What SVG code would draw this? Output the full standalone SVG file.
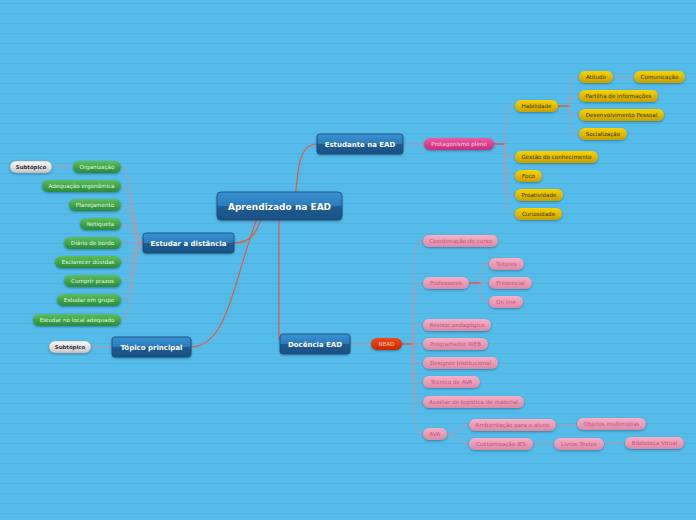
<svg xmlns="http://www.w3.org/2000/svg" width="696" height="520" viewBox="0 0 696 520">
<defs>
<pattern id="stripes" width="10" height="10" patternUnits="userSpaceOnUse">
<rect width="10" height="10" fill="#55bce9"/>
<rect y="3" width="10" height="0.8" fill="#4db3e1"/>
</pattern>
<linearGradient id="gBlue" x1="0" y1="0" x2="0" y2="1">
<stop offset="0" stop-color="#3a92d2"/><stop offset="0.5" stop-color="#2b7bbb"/>
<stop offset="0.52" stop-color="#1f5d92"/><stop offset="1" stop-color="#1b4f80"/>
</linearGradient>
<linearGradient id="gGreen" x1="0" y1="0" x2="0" y2="1">
<stop offset="0" stop-color="#5cbf5c"/><stop offset="1" stop-color="#2b8a3b"/>
</linearGradient>
<linearGradient id="gYellow" x1="0" y1="0" x2="0" y2="1">
<stop offset="0" stop-color="#f7d400"/><stop offset="1" stop-color="#c9a000"/>
</linearGradient>
<linearGradient id="gPink" x1="0" y1="0" x2="0" y2="1">
<stop offset="0" stop-color="#f5b0c6"/><stop offset="1" stop-color="#da8aa6"/>
</linearGradient>
<linearGradient id="gMag" x1="0" y1="0" x2="0" y2="1">
<stop offset="0" stop-color="#ee5aa0"/><stop offset="1" stop-color="#c92c7a"/>
</linearGradient>
<linearGradient id="gRed" x1="0" y1="0" x2="0" y2="1">
<stop offset="0" stop-color="#f04a14"/><stop offset="1" stop-color="#c42a00"/>
</linearGradient>
<linearGradient id="gWhite" x1="0" y1="0" x2="0" y2="1">
<stop offset="0" stop-color="#fafafa"/><stop offset="1" stop-color="#c6c6c6"/>
</linearGradient>
<filter id="sh" x="-20%" y="-30%" width="140%" height="180%">
<feDropShadow dx="0" dy="1" stdDeviation="0.8" flood-color="#0a3a5a" flood-opacity="0.45"/>
</filter>
</defs>
<style>
.main rect{fill:url(#gBlue);stroke:#184a75;stroke-width:0.8;filter:url(#sh)}
.main text{fill:#fff;font-family:"DejaVu Sans",sans-serif;font-weight:bold;font-size:7px;text-anchor:middle;dominant-baseline:central}
.green rect{fill:url(#gGreen);filter:url(#sh)}
.green text{fill:#e6f6e2;font-family:"DejaVu Sans",sans-serif;font-size:5.6px;text-anchor:middle;dominant-baseline:central}
.yellow rect{fill:url(#gYellow);filter:url(#sh)}
.yellow text{fill:#3e3200;font-family:"DejaVu Sans",sans-serif;font-size:5.6px;text-anchor:middle;dominant-baseline:central}
.pink rect{fill:url(#gPink);filter:url(#sh)}
.pink text{fill:#c8507e;font-family:"DejaVu Sans",sans-serif;font-size:5.6px;text-anchor:middle;dominant-baseline:central}
.mag rect{fill:url(#gMag);filter:url(#sh)}
.mag text{fill:#fbd6e6;font-family:"DejaVu Sans",sans-serif;font-size:5.6px;text-anchor:middle;dominant-baseline:central}
.red rect{fill:url(#gRed);filter:url(#sh)}
.red text{fill:#fbd2be;font-family:"DejaVu Sans",sans-serif;font-size:5.6px;text-anchor:middle;dominant-baseline:central}
.white rect{fill:url(#gWhite);stroke:#9a9a9a;stroke-width:0.4;filter:url(#sh)}
.white text{fill:#333;font-family:"DejaVu Sans",sans-serif;font-weight:bold;font-size:5.4px;text-anchor:middle;dominant-baseline:central}
.thick{fill:none;stroke:#e8583f;stroke-width:1.2}
.thin{fill:none;stroke:#c8909a;stroke-width:0.8}
.stub{fill:none;stroke:#e8503c;stroke-width:1.4}
</style>
<rect width="696" height="520" fill="url(#stripes)"/>

<g id="connectors">
<path class="thick" d="M295 200 C298 165 300 144 317 144"/>
<path class="thick" d="M265 205 C258 235 250 243 234 243"/>
<path class="thick" d="M262 205 C235 270 230 347 191 347"/>
<path class="thick" d="M279 206 L279 340"/>
<path class="thin" d="M143 243 C132 243 134 167 121 167"/>
<path class="thin" d="M143 243 C132 243 134 186 121 186"/>
<path class="thin" d="M143 243 C132 243 134 205 121 205"/>
<path class="thin" d="M143 243 C132 243 134 224 121 224"/>
<path class="thin" d="M143 243 C132 243 134 243 121 243"/>
<path class="thin" d="M143 243 C132 243 134 262 121 262"/>
<path class="thin" d="M143 243 C132 243 134 281 121 281"/>
<path class="thin" d="M143 243 C132 243 134 300 121 300"/>
<path class="thin" d="M143 243 C132 243 134 320 121 320"/>
<path class="thin" d="M73 167 L52 167"/>
<path class="thin" d="M112 347 L91 347"/>
<path class="thin" d="M403 144 L424 144"/>
<path class="stub" d="M494 144 L506 144"/>
<path class="thin" d="M505 144 C505 106 507 106 515 106"/>
<path class="thin" d="M505 144 C505 157 507 157 515 157"/>
<path class="thin" d="M505 144 C505 176 507 176 515 176"/>
<path class="thin" d="M505 144 C505 195 507 195 515 195"/>
<path class="thin" d="M505 144 C505 214 507 214 515 214"/>
<path class="stub" d="M558 106 L570 106"/>
<path class="thin" d="M569 106 C569 77 571 77 579 77"/>
<path class="thin" d="M569 106 C569 96 571 96 579 96"/>
<path class="thin" d="M569 106 C569 115 571 115 579 115"/>
<path class="thin" d="M569 106 C569 134 571 134 579 134"/>
<path class="thin" d="M613 77 L634 77"/>
<path class="thin" d="M350 344 L371 344"/>
<path class="stub" d="M402 344 L414 344"/>
<path class="thin" d="M413 344 C413 241 415 241 423 241"/>
<path class="thin" d="M413 344 C413 283 415 283 423 283"/>
<path class="thin" d="M413 344 C413 325 415 325 423 325"/>
<path class="thin" d="M413 344 C413 344 415 344 423 344"/>
<path class="thin" d="M413 344 C413 363 415 363 423 363"/>
<path class="thin" d="M413 344 C413 382 415 382 423 382"/>
<path class="thin" d="M413 344 C413 402 415 402 423 402"/>
<path class="thin" d="M413 344 C413 434 415 434 423 434"/>
<path class="stub" d="M469 283 L481 283"/>
<path class="thin" d="M480 283 C480 264 482 264 489 264"/>
<path class="thin" d="M480 283 C480 283 482 283 489 283"/>
<path class="thin" d="M480 283 C480 302 482 302 489 302"/>
<path class="thin" d="M447 434 C458 434 458 425 469 425"/>
<path class="thin" d="M447 434 C458 434 458 444 469 444"/>
<path class="thin" d="M556 425 L577 425"/>
<path class="thin" d="M533 444 L554 444"/>
<path class="thin" d="M604 444 L625 443"/>
</g>

<g id="root" class="main"><rect x="217" y="192" width="125" height="28" rx="4"/><text x="279.5" y="206.5" style="font-size:9px">Aprendizado na EAD</text></g>
<g id="estudante" class="main"><rect x="317" y="134" width="86" height="20" rx="3"/><text x="360" y="144.5">Estudante na EAD</text></g>
<g id="estudar" class="main"><rect x="143" y="233" width="91" height="20" rx="3"/><text x="188.5" y="243.5">Estudar a distância</text></g>
<g id="topico" class="main"><rect x="112" y="337" width="79" height="20" rx="3"/><text x="151.5" y="347.5">Tópico principal</text></g>
<g id="docencia" class="main"><rect x="280" y="334" width="70" height="20" rx="3"/><text x="315" y="344.5">Docência EAD</text></g>

<g id="organizacao" class="green"><rect x="73" y="161" width="48" height="12" rx="6"/><text x="97" y="167.3">Organização</text></g>
<g id="adequacao" class="green"><rect x="42" y="180" width="79" height="12" rx="6"/><text x="81.5" y="186.3">Adequação ergonômica</text></g>
<g id="planejamento" class="green"><rect x="69" y="199" width="52" height="12" rx="6"/><text x="95" y="205.3">Planejamento</text></g>
<g id="netiqueta" class="green"><rect x="80" y="218" width="41" height="12" rx="6"/><text x="100.5" y="224.3">Netiqueta</text></g>
<g id="diario" class="green"><rect x="64" y="237" width="57" height="12" rx="6"/><text x="92.5" y="243.3">Diário de bordo</text></g>
<g id="esclarecer" class="green"><rect x="55" y="256" width="66" height="12" rx="6"/><text x="88" y="262.3">Esclarecer dúvidas</text></g>
<g id="cumprir" class="green"><rect x="64" y="275" width="57" height="12" rx="6"/><text x="92.5" y="281.3">Cumprir prazos</text></g>
<g id="grupo" class="green"><rect x="57" y="294" width="64" height="12" rx="6"/><text x="89" y="300.3">Estudar em grupo</text></g>
<g id="local" class="green"><rect x="33" y="314" width="88" height="12" rx="6"/><text x="77" y="320.3">Estudar no local adequado</text></g>

<g id="subtopico1" class="white"><rect x="10" y="161" width="42" height="12" rx="6"/><text x="31" y="167.3">Subtópico</text></g>
<g id="subtopico2" class="white"><rect x="49" y="341" width="42" height="12" rx="6"/><text x="70" y="347.3">Subtópico</text></g>

<g id="protagonismo" class="mag"><rect x="424" y="138" width="70" height="12" rx="6"/><text x="459" y="144.3">Protagonismo pleno</text></g>
<g id="nead" class="red"><rect x="371" y="338" width="31" height="12" rx="6"/><text x="386.5" y="344.3">NEAD</text></g>

<g id="habilidade" class="yellow"><rect x="515" y="100" width="43" height="12" rx="6"/><text x="536.5" y="106.3">Habilidade</text></g>
<g id="atitude" class="yellow"><rect x="579" y="71" width="34" height="12" rx="6"/><text x="596" y="77.3">Atitude</text></g>
<g id="comunicacao" class="yellow"><rect x="634" y="71" width="51" height="12" rx="6"/><text x="659.5" y="77.3">Comunicação</text></g>
<g id="partilha" class="yellow"><rect x="579" y="90" width="79" height="12" rx="6"/><text x="618.5" y="96.3">Partilha de informações</text></g>
<g id="desenvolvimento" class="yellow"><rect x="579" y="109" width="85" height="12" rx="6"/><text x="621.5" y="115.3">Desenvolvimento Pessoal</text></g>
<g id="socializacao" class="yellow"><rect x="579" y="128" width="48" height="12" rx="6"/><text x="603" y="134.3">Socialização</text></g>
<g id="gestao" class="yellow"><rect x="515" y="151" width="83" height="12" rx="6"/><text x="556.5" y="157.3">Gestão do conhecimento</text></g>
<g id="foco" class="yellow"><rect x="515" y="170" width="27" height="12" rx="6"/><text x="528.5" y="176.3">Foco</text></g>
<g id="proatividade" class="yellow"><rect x="515" y="189" width="48" height="12" rx="6"/><text x="539" y="195.3">Proatividade</text></g>
<g id="curiosidade" class="yellow"><rect x="515" y="208" width="47" height="12" rx="6"/><text x="538.5" y="214.3">Curiosidade</text></g>

<g id="coordenacao" class="pink"><rect x="423" y="235" width="75" height="12" rx="6"/><text x="460.5" y="241.3">Coordenação do curso</text></g>
<g id="professores" class="pink"><rect x="423" y="277" width="46" height="12" rx="6"/><text x="446" y="283.3">Professores</text></g>
<g id="tutores" class="pink"><rect x="489" y="258" width="35" height="12" rx="6"/><text x="506.5" y="264.3">Tutores</text></g>
<g id="presencial" class="pink"><rect x="489" y="277" width="43" height="12" rx="6"/><text x="510.5" y="283.3">Presencial</text></g>
<g id="online" class="pink"><rect x="489" y="296" width="34" height="12" rx="6"/><text x="506" y="302.3">On line</text></g>
<g id="revisor" class="pink"><rect x="423" y="319" width="68" height="12" rx="6"/><text x="457" y="325.3">Revisor pedagógico</text></g>
<g id="programador" class="pink"><rect x="423" y="338" width="65" height="12" rx="6"/><text x="455.5" y="344.3">Programador WEB</text></g>
<g id="designer" class="pink"><rect x="423" y="357" width="75" height="12" rx="6"/><text x="460.5" y="363.3">Designer Institucional</text></g>
<g id="tecnico" class="pink"><rect x="423" y="376" width="57" height="12" rx="6"/><text x="451.5" y="382.3">Técnico de AVA</text></g>
<g id="auxiliar" class="pink"><rect x="423" y="396" width="101" height="12" rx="6"/><text x="473.5" y="402.3">Auxiliar de logística de material</text></g>
<g id="ava" class="pink"><rect x="423" y="428" width="24" height="12" rx="6"/><text x="435" y="434.3">AVA</text></g>
<g id="ambientacao" class="pink"><rect x="469" y="419" width="87" height="12" rx="6"/><text x="512.5" y="425.3">Ambientação para o aluno</text></g>
<g id="customizacao" class="pink"><rect x="469" y="438" width="64" height="12" rx="6"/><text x="501" y="444.3">Customização IES</text></g>
<g id="objetos" class="pink"><rect x="577" y="418" width="69" height="12" rx="6"/><text x="611.5" y="424.3">Objetos multimídias</text></g>
<g id="livros" class="pink"><rect x="554" y="438" width="50" height="12" rx="6"/><text x="579" y="444.3">Livros Textos</text></g>
<g id="biblioteca" class="pink"><rect x="625" y="437" width="59" height="12" rx="6"/><text x="654.5" y="443.3">Biblioteca Vitual</text></g>
</svg>
